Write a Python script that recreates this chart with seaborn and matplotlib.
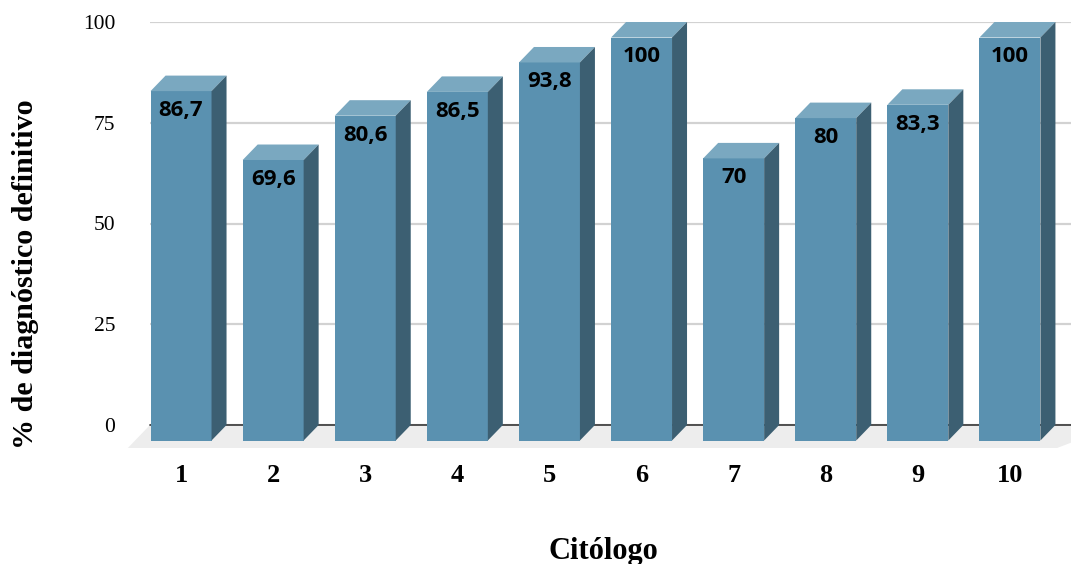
import seaborn as sns
import pandas as pd
from matplotlib import pyplot as plt
from matplotlib.patches import Polygon

citologos = ['1', '2', '3', '4', '5', '6', '7', '8', '9', '10']
valores = [86.7, 69.6, 80.6, 86.5, 93.8, 100, 70, 80, 83.3, 100]
rotulos = ['86,7', '69,6', '80,6', '86,5', '93,8', '100', '70', '80', '83,3', '100']
y_ticks = [0, 25, 50, 75, 100]

FRONT = '#5a91b0'
TOP = '#7aa8c0'
SIDE = '#3c5f72'
SERIF = 'Liberation Serif'

sns.set_theme(style='whitegrid')

W, H = 1071, 564
fig = plt.figure(figsize=(W / 100, H / 100), dpi=100)
ax = fig.add_axes([150 / W, 1 - 425 / H, (W - 150) / W, 403 / H])

df = pd.DataFrame({'citologo': citologos, 'valor': valores})
sns.barplot(data=df, x='citologo', y='valor', color=FRONT, saturation=1, width=0.662, ax=ax, zorder=3)
ax.set_xlim(-0.5, 9.5)
ax.set_ylim(0, 100)

# depth of the fake 3d box, in data units (about 15 px each way)
dx = 15 / 92.1
dy = 15.5 / 4.03

for bar, rotulo in zip(ax.patches, rotulos):
    x0 = bar.get_x()
    x1 = x0 + bar.get_width()
    top = bar.get_height()
    # front face is pushed down-left from the back plane
    bar.set_x(x0 - dx)
    bar.set_y(-dy)
    bar.set_clip_on(False)
    bar.set_linewidth(0)
    ax.add_patch(Polygon([(x0 - dx, top - dy), (x1 - dx, top - dy), (x1, top), (x0, top)],
                         facecolor=TOP, edgecolor='none', zorder=3, clip_on=False))
    ax.add_patch(Polygon([(x1 - dx, -dy), (x1 - dx, top - dy), (x1, top), (x1, 0)],
                         facecolor=SIDE, edgecolor='none', zorder=3, clip_on=False))
    ax.annotate(rotulo, ((x0 + x1) / 2 - dx, top - dy), xytext=(0, -14), textcoords='offset points',
                ha='center', va='center', fontsize=16, fontweight='bold', family='Open Sans',
                color='black', zorder=4)

# floor and baseline
ax.add_patch(Polygon([(-0.5, 0), (10, 0), (9.35, -5.7), (-0.74, -5.7)],
                     facecolor='#ededed', edgecolor='none', zorder=1, clip_on=False))
ax.axhline(0, color='#444444', lw=1.3, zorder=2, clip_on=False)

ax.grid(False, axis='x')
ax.grid(True, axis='y', color='#d2d2d2', lw=1.6)
ax.set_axisbelow(True)
sns.despine(ax=ax, left=True, bottom=True, right=True, top=True)

ax.set_yticks(y_ticks)
ax.set_yticklabels([str(t) for t in y_ticks], family=SERIF, fontsize=15.5, color='black')
ax.tick_params(axis='y', length=0, pad=25)
ax.set_xticks([i - dx for i in range(len(citologos))])
ax.set_xticklabels(citologos, family=SERIF, fontsize=19, fontweight='bold', color='black')
ax.tick_params(axis='x', length=0, pad=28)

ax.set_xlabel('')
ax.set_ylabel('')
fig.text(603.5 / W, 1 - 551 / H, 'Citólogo', family=SERIF, fontsize=22, fontweight='bold',
         ha='center', va='center', color='black')
fig.text(26 / W, 1 - 274 / H, '% de diagnóstico definitivo', family=SERIF, fontsize=21.6, fontweight='bold',
         rotation=90, ha='center', va='center', color='black')

plt.savefig('out.png', dpi=100)
